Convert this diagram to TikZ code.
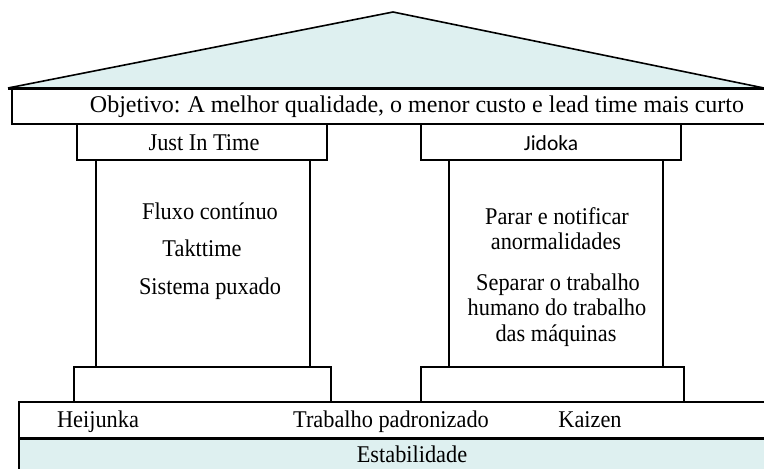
\documentclass[tikz,border=0pt]{standalone}
\usepackage{fontspec}
\setmainfont[FakeStretch=0.93]{Liberation Serif}
\newfontfamily\goalfont{Liberation Serif}
\newfontfamily\jidokafont{Carlito}
\definecolor{paleteal}{RGB}{222,240,240}

\begin{document}
\begin{tikzpicture}[x=1pt,y=-1pt,line width=1.6pt,
  every node/.style={font=\fontsize{24}{26}\selectfont,inner sep=0pt,anchor=base}]

  \useasboundingbox (0,0) rectangle (764,469);
  \clip (0,0) rectangle (764,469);

  % draw roof
  \draw[fill=paleteal,line join=round] (8,88) -- (393,12) -- (764,88);
  \draw[line width=3pt] (8,88) -- (770,88);

  % objective beam
  \draw (12,88) rectangle (770,124);
  \node[font=\goalfont\fontsize{24}{26}\selectfont] (goal) at (417,112) {Objetivo:\hspace{-1pt} A melhor qualidade, o menor custo e lead time mais curto};

  % pillar heads
  \draw (77,124) rectangle (327,160);
  \draw (421,124) rectangle (681,160);
  \node (jit) at (204,150) {Just In Time};
  \node[font=\jidokafont\fontsize{21.5}{26}\selectfont] (jidoka) at (551,150) {Jidoka};

  % pillars
  \draw (96,160) rectangle (310,367);
  \draw (449,160) rectangle (663,367);

  \node (fluxo) at (210,219) {Fluxo contínuo};
  \node (takt) at (202,256) {Takttime};
  \node (puxado) at (210,294) {Sistema puxado};

  \node (parar) at (557,224) {Parar e notificar};
  \node (anorm) at (556,249) {anormalidades};
  \node (separar) at (558,290) {Separar o trabalho};
  \node (humano) at (557,315) {humano do trabalho};
  \node (maquinas) at (556,341) {das máquinas};

  % pillar bases
  \draw (74,367) rectangle (331,402);
  \draw (421,367) rectangle (684,402);

  % foundation
  \draw (19,402) rectangle (770,438);
  \draw[fill=paleteal] (19,438) rectangle (770,475);
  \draw[line width=3pt] (19,438) -- (770,438);

  \node (heijunka) at (98,427) {Heijunka};
  \node (padrao) at (391,427) {Trabalho padronizado};
  \node (kaizen) at (590,427) {Kaizen};
  \node (estab) at (412,462) {Estabilidade};
\end{tikzpicture}
\end{document}
